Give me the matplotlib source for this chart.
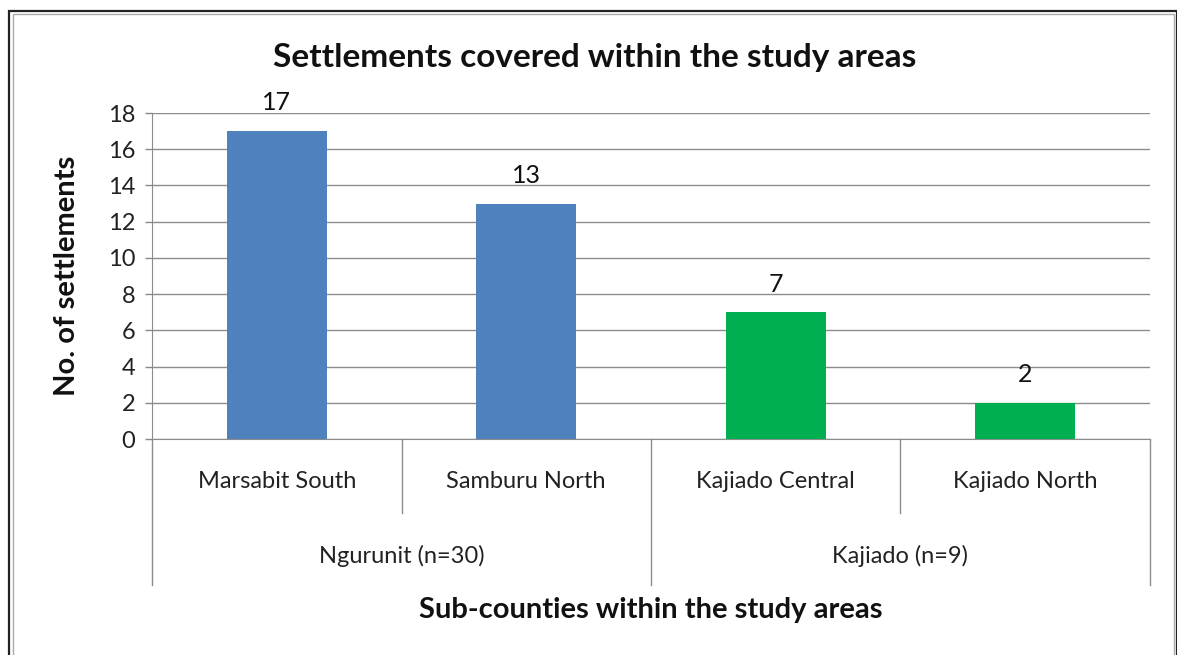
import matplotlib
matplotlib.use("Agg")
import matplotlib.pyplot as plt
from matplotlib.patches import Rectangle
import matplotlib.transforms as mtransforms

categories = ["Marsabit South", "Samburu North", "Kajiado Central", "Kajiado North"]
values = [17, 13, 7, 2]
groups = ["Ngurunit (n=30)", "Kajiado (n=9)"]
group_sizes = [2, 2]
colors = ["#4F81BD", "#4F81BD", "#00B050", "#00B050"]
yticks = [0, 2, 4, 6, 8, 10, 12, 14, 16, 18]

plt.rcParams['font.family'] = ['Lato', 'DejaVu Sans']

W, H = 1177, 655
fig = plt.figure(figsize=(W / 100, H / 100), dpi=100)
fig.patch.set_facecolor("white")

# frame
fig.add_artist(Rectangle((9 / W, -0.05), (1177 - 9) / W, 1.05 - 11 / H,
                         transform=fig.transFigure, fill=False, ec="#222222", lw=1.6))
fig.add_artist(Rectangle((12.5 / W, -0.05), (1174 - 12.5) / W, 1.05 - 14 / H,
                         transform=fig.transFigure, fill=False, ec="#aaaaaa", lw=1.0))

left, right, top, bottom = 152 / W, 1150 / W, 1 - 113 / H, 1 - 439 / H
ax = fig.add_axes([left, bottom, right - left, top - bottom])

x = list(range(len(categories)))
ax.bar(x, values, width=0.4, color=colors, zorder=3)
ax.set_xlim(-0.5, len(categories) - 0.5)
ax.set_ylim(0, 18)
ax.set_yticks(yticks)
ax.tick_params(axis="y", length=5, width=1, color="#888888", labelsize=17, pad=7, labelcolor="#222222")
ax.grid(axis="y", color="#8c8c8c", lw=1, zorder=0)
ax.set_axisbelow(True)
for s in ["top", "right"]:
    ax.spines[s].set_visible(False)
ax.spines["left"].set_color("#8c8c8c")
ax.spines["bottom"].set_color("#8c8c8c")
ax.set_xticks([])

for xi, v in zip(x, values):
    ax.annotate(str(v), (xi, v), xytext=(0, 12), textcoords="offset points",
                ha="center", va="bottom", fontsize=18, color="#111111")

trans = mtransforms.blended_transform_factory(ax.transData, ax.transAxes)
short = -74 / 326
long_ = -146 / 326
for xi, c in zip(x, categories):
    ax.text(xi, -0.129, c, transform=trans, ha="center", va="center", fontsize=17, color="#222222")
pos = -0.5
boundaries = [-0.5]
for gs in group_sizes:
    pos += gs
    boundaries.append(pos)
for b in [i + 0.5 for i in range(len(categories) - 1)]:
    depth = long_ if b in boundaries else short
    ax.plot([b, b], [0, depth], transform=trans, color="#8c8c8c", lw=1, clip_on=False)
for b in [boundaries[0], boundaries[-1]]:
    ax.plot([b, b], [0, long_], transform=trans, color="#8c8c8c", lw=1, clip_on=False)
for g, a, b in zip(groups, boundaries[:-1], boundaries[1:]):
    ax.text((a + b) / 2, -0.359, g, transform=trans, ha="center", va="center", fontsize=17, color="#222222")

fig.text(0.5055, 1 - 58 / H, "Settlements covered within the study areas",
         ha="center", va="center", fontsize=24, fontweight="bold", color="#111111")
ax.text(0.5, -(610 - 439) / 326, "Sub-counties within the study areas", transform=ax.transAxes,
        ha="center", va="center", fontsize=21, fontweight="bold", color="#111111")
fig.text(67 / W, 1 - 276 / H, "No. of settlements", rotation=90,
         ha="center", va="center", fontsize=21, fontweight="bold", color="#111111")

fig.savefig("out.png", dpi=100)
